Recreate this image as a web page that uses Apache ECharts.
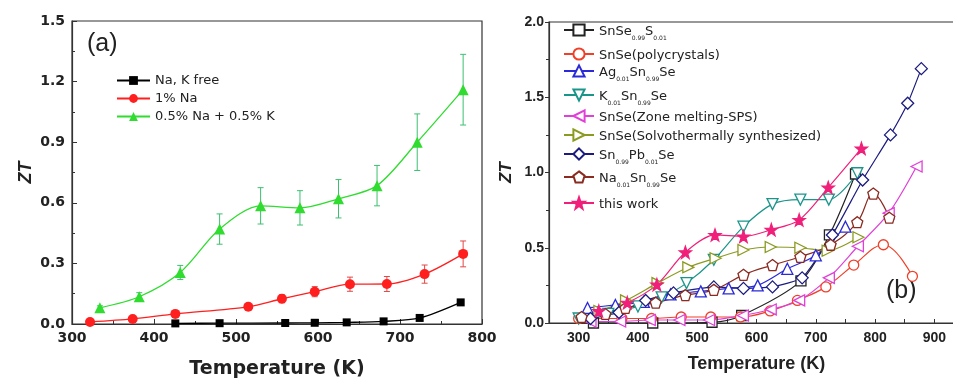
<!DOCTYPE html>
<html>
<head>
<meta charset="utf-8">
<script src="https://cdn.jsdelivr.net/npm/echarts@6/dist/echarts.min.js"></script>
</head>
<body style="margin:0; background:#fff">
<div id="container" style="width:953px; height:384px"></div>
<script type="text/javascript">
// ---- panel (a) data ----
var freeT = [426, 480, 560, 596, 635, 680, 724, 774];
var freeZT = [0.003, 0.004, 0.005, 0.006, 0.008, 0.013, 0.03, 0.107];
var naT = [322, 374, 426, 515, 556, 596, 639, 684, 730, 777];
var naZT = [0.01, 0.025, 0.05, 0.085, 0.125, 0.16, 0.197, 0.198, 0.247, 0.347];
var naErr = [0.005, 0.008, 0.01, 0.012, 0.02, 0.025, 0.035, 0.037, 0.045, 0.064];
var nakT = [334, 382, 432, 480, 530, 578, 625, 672, 721, 777];
var nakZT = [0.08, 0.135, 0.255, 0.47, 0.585, 0.575, 0.62, 0.685, 0.90, 1.16];
var nakErr = [0.01, 0.02, 0.035, 0.075, 0.09, 0.085, 0.095, 0.1, 0.14, 0.175];

// ---- panel (b) data ----
var sT = [325, 425, 525, 575, 675, 723, 767];
var sZT = [0.0, 0.0, 0.005, 0.05, 0.28, 0.585, 0.99];
var polyT = [300, 373, 423, 473, 523, 573, 623, 669, 717, 764, 814, 863];
var polyZT = [0.03, 0.03, 0.03, 0.04, 0.04, 0.04, 0.08, 0.15, 0.24, 0.385, 0.52, 0.31];
var agT = [315, 362, 410, 455, 506, 553, 602, 652, 700, 750];
var agZT = [0.10, 0.12, 0.14, 0.19, 0.21, 0.23, 0.25, 0.36, 0.45, 0.64];
var kT = [300, 350, 400, 440, 482, 528, 578, 627, 674, 722, 770];
var kZT = [0.03, 0.06, 0.11, 0.17, 0.265, 0.42, 0.64, 0.79, 0.82, 0.82, 0.995];
var zoneT = [320, 370, 420, 470, 520, 577, 624, 672, 722, 771, 823, 870];
var zoneZT = [0.01, 0.01, 0.02, 0.02, 0.02, 0.05, 0.09, 0.15, 0.30, 0.51, 0.73, 1.04];
var solvoT = [335, 380, 433, 485, 531, 578, 624, 674, 720, 772];
var solvoZT = [0.08, 0.15, 0.265, 0.37, 0.43, 0.485, 0.505, 0.50, 0.48, 0.57];
var pbT = [320, 368, 413, 460, 528, 578, 627, 677, 728, 779, 826, 855, 878];
var pbZT = [0.03, 0.07, 0.15, 0.2, 0.24, 0.23, 0.24, 0.30, 0.585, 0.95, 1.25, 1.46, 1.69];
var naSnT = [305, 345, 379, 430, 480, 528, 578, 627, 674, 725, 770, 797, 824];
var naSnZT = [0.04, 0.06, 0.10, 0.135, 0.185, 0.22, 0.32, 0.385, 0.44, 0.52, 0.67, 0.86, 0.70];
var workT = nakT;
var workZT = nakZT;

var legendA = ['Na, K free', '1% Na', '0.5% Na + 0.5% K'];
var legendB = ['SnSe0.99S0.01', 'SnSe(polycrystals)', 'Ag0.01Sn0.99Se', 'K0.01Sn0.99Se',
    'SnSe(Zone melting-SPS)', 'SnSe(Solvothermally synthesized)', 'Sn0.99Pb0.01Se',
    'Na0.01Sn0.99Se', 'this work'];
var legendRich = {
    'SnSe0.99S0.01': '{n|SnSe}{s|0.99}{n|S}{s|0.01}',
    'Ag0.01Sn0.99Se': '{n|Ag}{s|0.01}{n|Sn}{s|0.99}{n|Se}',
    'K0.01Sn0.99Se': '{n|K}{s|0.01}{n|Sn}{s|0.99}{n|Se}',
    'Sn0.99Pb0.01Se': '{n|Sn}{s|0.99}{n|Pb}{s|0.01}{n|Se}',
    'Na0.01Sn0.99Se': '{n|Na}{s|0.01}{n|Sn}{s|0.99}{n|Se}'
};
var legendRowY = [32, 56, 73, 97, 118, 137, 156, 179, 205];

function zip(t, z, e) {
    return t.map(function (v, i) {
        return e ? [v, z[i], e[i]] : [v, z[i]];
    });
}

var dom = document.getElementById('container');
var myChart = echarts.init(dom, null, {renderer: 'canvas'});

var pentagon = 'path://M0,-10 L9.51,-3.09 L5.88,8.09 L-5.88,8.09 L-9.51,-3.09 Z';
var star = 'path://M0,-10 L2.35,-3.24 L9.51,-3.09 L3.8,1.24 L5.88,8.09 L0,4 L-5.88,8.09 L-3.8,1.24 L-9.51,-3.09 L-2.35,-3.24 Z';

function errorBars(name, data, color) {
    return {
        name: name,
        type: 'custom',
        xAxisIndex: 0,
        yAxisIndex: 0,
        z: 1,
        data: data,
        renderItem: function (params, api) {
            var x = api.value(0), y = api.value(1), e = api.value(2);
            var top = api.coord([x, y + e]);
            var bot = api.coord([x, y - e]);
            var st = {stroke: color, lineWidth: 1};
            return {
                type: 'group',
                children: [
                    {type: 'line', shape: {x1: top[0], y1: top[1], x2: bot[0], y2: bot[1]}, style: st},
                    {type: 'line', shape: {x1: top[0] - 3, y1: top[1], x2: top[0] + 3, y2: top[1]}, style: st},
                    {type: 'line', shape: {x1: bot[0] - 3, y1: bot[1], x2: bot[0] + 3, y2: bot[1]}, style: st}
                ]
            };
        }
    };
}

function lineA(name, data, color, symbol, size) {
    return {
        name: name,
        type: 'line',
        xAxisIndex: 0,
        yAxisIndex: 0,
        z: 3,
        smooth: 0.3,
        data: data,
        symbol: symbol,
        symbolSize: size,
        itemStyle: {color: color},
        lineStyle: {color: color, width: 1.3}
    };
}

function lineB(name, data, color, symbol, size, rotate, smooth, fill) {
    return {
        name: name,
        type: 'line',
        xAxisIndex: 1,
        yAxisIndex: 1,
        smooth: smooth,
        data: data,
        symbol: symbol,
        symbolSize: size,
        symbolRotate: rotate,
        itemStyle: {color: fill || '#fff', borderColor: color, borderWidth: 1.3},
        lineStyle: {color: color, width: 1.2}
    };
}

var axisColor = '#333';
var fontA = 'DejaVu Sans';
var fontB = 'Liberation Sans';

var legends = [{
    data: legendA,
    orient: 'vertical',
    left: 116,
    top: 73,
    padding: 0,
    itemWidth: 33,
    itemHeight: 11,
    itemGap: 3,
    textStyle: {fontFamily: fontA, fontSize: 13, lineHeight: 15, color: '#222'}
}];
legendB.forEach(function (name, i) {
    legends.push({
        data: [name],
        left: 563,
        top: legendRowY[i] - 9,
        padding: 0,
        itemWidth: 30,
        itemHeight: 14,
        formatter: function (n) {
            return legendRich[n] || ('{n|' + n + '}');
        },
        textStyle: {
            rich: {
                n: {fontFamily: fontA, fontSize: 13, lineHeight: 14, padding: [2, 0, 2, 0], verticalAlign: 'top', color: '#222'},
                s: {fontFamily: fontA, fontSize: 6, lineHeight: 6, padding: [12, 0, 0, 0], verticalAlign: 'top', color: '#222'}
            }
        }
    });
});

var option = {
    animation: false,
    backgroundColor: '#fff',
    legend: legends,
    grid: [
        {left: 72, top: 21, width: 410, height: 303, show: true, borderColor: axisColor, borderWidth: 1.2, outerBoundsMode: 'none'},
        {left: 549, top: 22, width: 415, height: 301, show: true, borderColor: axisColor, borderWidth: 1.2, outerBoundsMode: 'none'}
    ],
    xAxis: [{
        gridIndex: 0,
        type: 'value',
        min: 300, max: 800, interval: 100,
        name: 'Temperature (K)',
        nameLocation: 'middle',
        nameGap: 36,
        nameTextStyle: {fontFamily: fontA, fontWeight: 'bold', fontSize: 19, color: '#222'},
        axisLine: {lineStyle: {color: axisColor, width: 1.2}},
        axisTick: {inside: true, length: 5, lineStyle: {color: axisColor}},
        minorTick: {show: true, splitNumber: 2, length: 3, lineStyle: {color: axisColor}},
        splitLine: {show: false},
        axisLabel: {fontFamily: fontA, fontWeight: 'bold', fontSize: 14, color: '#222', margin: 7}
    }, {
        gridIndex: 1,
        type: 'value',
        min: 250, max: 950, interval: 50,
        name: 'Temperature (K)',
        nameLocation: 'middle',
        nameGap: 32,
        nameTextStyle: {fontFamily: fontB, fontWeight: 'bold', fontSize: 18, color: '#222'},
        axisLine: {lineStyle: {color: axisColor, width: 1.2}},
        axisTick: {inside: true, length: 4, lineStyle: {color: axisColor}},
        splitLine: {show: false},
        axisLabel: {
            fontFamily: fontB, fontWeight: 'bold', fontSize: 14, color: '#222', margin: 8,
            formatter: function (v) { return v % 100 === 0 ? String(v) : ''; }
        }
    }],
    yAxis: [{
        gridIndex: 0,
        type: 'value',
        min: 0, max: 1.5, interval: 0.3,
        name: 'ZT',
        nameLocation: 'middle',
        nameGap: 37,
        nameTextStyle: {fontFamily: fontB, fontWeight: 'bold', fontStyle: 'italic', fontSize: 18, color: '#222'},
        axisLine: {show: true, lineStyle: {color: axisColor, width: 1.2}},
        axisTick: {show: true, inside: true, length: 5, lineStyle: {color: axisColor}},
        minorTick: {show: true, splitNumber: 2, length: 3, lineStyle: {color: axisColor}},
        splitLine: {show: false},
        axisLabel: {
            fontFamily: fontA, fontWeight: 'bold', fontSize: 14, color: '#222', margin: 7,
            formatter: function (v) { return v.toFixed(1); }
        }
    }, {
        gridIndex: 1,
        type: 'value',
        min: 0, max: 2, interval: 0.5,
        name: 'ZT',
        nameLocation: 'middle',
        nameGap: 34,
        nameTextStyle: {fontFamily: fontB, fontWeight: 'bold', fontStyle: 'italic', fontSize: 17, color: '#222'},
        axisLine: {show: true, lineStyle: {color: axisColor, width: 1.2}},
        axisTick: {show: true, inside: false, length: 4, lineStyle: {color: axisColor}},
        minorTick: {show: true, splitNumber: 2, length: 3, lineStyle: {color: axisColor}},
        splitLine: {show: false},
        axisLabel: {
            fontFamily: fontB, fontWeight: 'bold', fontSize: 14, color: '#222', margin: 5,
            formatter: function (v) { return v.toFixed(1); }
        }
    }],
    graphic: [
        {type: 'text', style: {x: 87, y: 44, text: '(a)', font: '25px "Liberation Sans"', fill: '#222', verticalAlign: 'middle'}},
        {type: 'text', style: {x: 886, y: 291, text: '(b)', font: '25px "Liberation Sans"', fill: '#222', verticalAlign: 'middle'}}
    ],
    series: [
        errorBars('err1', zip(naT, naZT, naErr), '#e04848'),
        errorBars('err2', zip(nakT, nakZT, nakErr), '#3cc070'),
        lineA(legendA[0], zip(freeT, freeZT), '#000000', 'rect', 8),
        lineA(legendA[1], zip(naT, naZT), '#ff1f1f', 'circle', 10),
        lineA(legendA[2], zip(nakT, nakZT), '#2fdc2f', 'triangle', 11),

        lineB(legendB[0], zip(sT, sZT), '#222222', 'rect', 10, 0, 0.3),
        lineB(legendB[1], zip(polyT, polyZT), '#f0402a', 'circle', 10, 0, 0.4),
        lineB(legendB[2], zip(agT, agZT), '#2a2ad8', 'triangle', 11, 0, 0.3),
        lineB(legendB[3], zip(kT, kZT), '#1a958a', 'triangle', 11, 180, 0.3),
        lineB(legendB[4], zip(zoneT, zoneZT), '#e040d8', 'triangle', 11, 90, 0.3),
        lineB(legendB[5], zip(solvoT, solvoZT), '#8c9a20', 'triangle', 11, -90, 0.3),
        lineB(legendB[6], zip(pbT, pbZT), '#1c1c80', 'diamond', 12, 0, 0.15),
        lineB(legendB[7], zip(naSnT, naSnZT), '#8a2a20', pentagon, 11, 0, 0.4),
        lineB(legendB[8], zip(workT, workZT), '#f0207a', star, 12, 0, 0.3, '#f0207a')
    ]
};

myChart.setOption(option);
</script>
</body>
</html>
